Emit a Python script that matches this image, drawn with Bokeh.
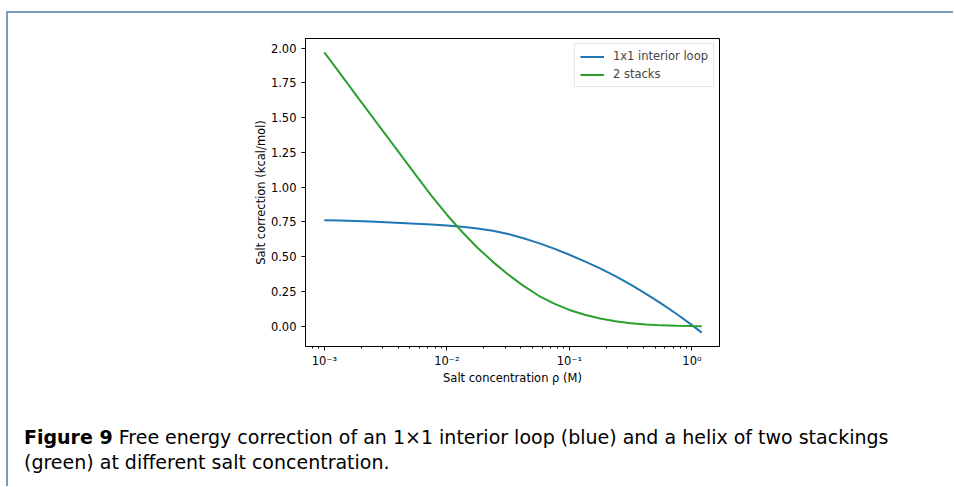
from bokeh.plotting import figure
from bokeh.models import (Range1d, FixedTicker, Legend, LegendItem, Div, Spacer)
from bokeh.layouts import column, row
from bokeh.embed import file_html
from bokeh.resources import INLINE

# ---- data ----
salt_conc = [0.001, 0.001334, 0.001778, 0.002371, 0.003162, 0.004217, 0.005623, 0.007499,
             0.01, 0.01334, 0.01778, 0.02371, 0.03162, 0.04217, 0.05623, 0.07499,
             0.1, 0.1334, 0.1778, 0.2371, 0.3162, 0.4217, 0.5623, 0.7499,
             1.0, 1.202]
interior_loop = [0.762, 0.760, 0.757, 0.753, 0.748, 0.743, 0.737, 0.731,
                 0.724, 0.715, 0.703, 0.687, 0.664, 0.633, 0.598, 0.558,
                 0.514, 0.467, 0.416, 0.360, 0.299, 0.233, 0.163, 0.088,
                 0.008, -0.046]
two_stacks = [1.970, 1.822, 1.674, 1.526, 1.378, 1.231, 1.084, 0.938,
              0.802, 0.678, 0.565, 0.463, 0.372, 0.290, 0.219, 0.162,
              0.117, 0.082, 0.055, 0.035, 0.021, 0.012, 0.006, 0.003,
              0.001, 0.000]

series_names = ["1x1 interior loop", "2 stacks"]

x_ticks = [0.001, 0.01, 0.1, 1.0]
x_tick_labels = ["10\u207b\u00b3", "10\u207b\u00b2", "10\u207b\u00b9", "10\u2070"]
x_minor = [0.0007, 0.0008, 0.0009,
           0.002, 0.003, 0.004, 0.005, 0.006, 0.007, 0.008, 0.009,
           0.02, 0.03, 0.04, 0.05, 0.06, 0.07, 0.08, 0.09,
           0.2, 0.3, 0.4, 0.5, 0.6, 0.7, 0.8, 0.9]
y_ticks = [0.0, 0.25, 0.5, 0.75, 1.0, 1.25, 1.5, 1.75, 2.0]
y_tick_labels = ["0.00", "0.25", "0.50", "0.75", "1.00", "1.25", "1.50", "1.75", "2.00"]

caption_bold = "Figure 9"
caption_line1 = "Free energy correction of an 1\u00d71 interior loop (blue) and a helix of two stackings"
caption_line2 = "(green) at different salt concentration."

FONT = "DejaVu Sans"
CAP_FONT = "DejaVu Sans"
RULE = "#7b98bd"

# ---- chart ----
p = figure(width=945, height=377, x_axis_type="log",
           x_range=Range1d(0.000702, 1.677), y_range=Range1d(-0.146, 2.070),
           output_backend="svg", toolbar_location=None,
           min_border_left=297, min_border_right=234,
           min_border_top=25, min_border_bottom=44)

p.grid.visible = False
p.outline_line_color = "black"
p.outline_line_width = 1
p.background_fill_color = "white"
p.border_fill_color = "white"

for ax in (p.xaxis[0], p.yaxis[0]):
    ax.axis_line_color = "black"
    ax.major_tick_line_color = "black"
    ax.minor_tick_line_color = "black"
    ax.major_tick_out = 4
    ax.major_tick_in = 0
    ax.minor_tick_out = 2
    ax.minor_tick_in = 0
    ax.major_label_text_font = FONT
    ax.major_label_text_font_size = "11.5px"
    ax.major_label_text_color = "black"
    ax.axis_label_text_font = FONT
    ax.axis_label_text_font_size = "11.5px"
    ax.axis_label_text_font_style = "normal"
    ax.axis_label_text_color = "black"

p.xaxis.ticker = FixedTicker(ticks=x_ticks, minor_ticks=x_minor)
p.xaxis.major_label_overrides = dict(zip(x_ticks, x_tick_labels))
p.xaxis.major_label_standoff = 3
p.xaxis.axis_label = "Salt concentration \u03c1 (M)"
p.xaxis.axis_label_standoff = 0

p.yaxis.ticker = FixedTicker(ticks=y_ticks)
p.yaxis.major_label_overrides = dict(zip(y_ticks, y_tick_labels))
p.yaxis.minor_tick_line_color = None
p.yaxis.major_label_standoff = 5
p.yaxis.axis_label = "Salt correction (kcal/mol)"
p.yaxis.axis_label_standoff = 0

r1 = p.line(salt_conc, interior_loop, line_color="#1f77b4", line_width=2)
r2 = p.line(salt_conc, two_stacks, line_color="#2ca02c", line_width=2)

legend = Legend(items=[LegendItem(label=series_names[0], renderers=[r1]),
                       LegendItem(label=series_names[1], renderers=[r2])],
                location="top_right", margin=5, padding=5, spacing=4,
                label_height=13, glyph_height=13, glyph_width=24, label_standoff=9,
                label_text_font=FONT, label_text_font_size="11.5px",
                border_line_color="#cccccc", border_line_width=1,
                background_fill_color="white", background_fill_alpha=0.8)
p.add_layout(legend)

# ---- caption (real HTML text) ----
cap_html = (
    f'<div style="font-family:\'{CAP_FONT}\';font-size:19px;line-height:25px;'
    f'color:#000;white-space:nowrap;padding:35px 0 0 16px;margin:0;">'
    f'<b>{caption_bold}</b> {caption_line1}<br>{caption_line2}</div>'
)
cap = Div(text=cap_html, width=945, height=96, margin=0)

# ---- panel rules (top and left) ----
top_rule = Div(text="", width=947, height=2, margin=0, styles={"background-color": RULE})
left_rule = Div(text="", width=2, height=473, margin=0, styles={"background-color": RULE})

root = column(
    Spacer(width=953, height=11, margin=0),
    row(Spacer(width=6, height=475, margin=0),
        column(top_rule,
               row(left_rule, column(p, cap, spacing=0), spacing=0),
               spacing=0),
        spacing=0),
    spacing=0)

open("out.html", "w").write(file_html(root, INLINE))
